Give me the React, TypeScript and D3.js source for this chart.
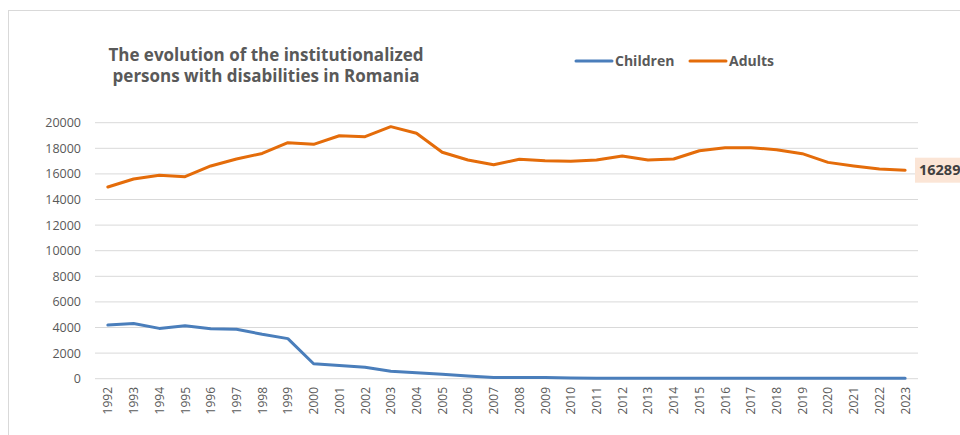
import React from "react";
import * as d3 from "d3";

const years: string[] = d3.range(1992, 2024).map(String);
const children: number[] = [4190, 4320, 3930, 4140, 3910, 3860, 3470, 3130, 1170, 1040, 890, 580, 470, 340, 210, 100, 90, 100, 50, 40, 40, 40, 40, 40, 40, 40, 40, 40, 40, 40, 40, 40];
const adults: number[] = [14980, 15600, 15890, 15780, 16620, 17160, 17600, 18440, 18310, 18980, 18910, 19690, 19170, 17690, 17090, 16720, 17140, 17030, 16980, 17090, 17400, 17090, 17160, 17810, 18050, 18050, 17890, 17580, 16900, 16620, 16380, 16289];
const yTicks: number[] = d3.range(0, 20001, 2000);
const seriesNames: string[] = ["Children", "Adults"];
const seriesColors: string[] = ["#4a7ebb", "#e46c0a"];

export default function App() {
  const W = 960, H = 435;
  const x = d3.scaleBand<string>().domain(years).range([95, 918]);
  const y = d3.scaleLinear().domain([0, 20000]).range([378.7, 122.7]);
  const cx = (d: string) => (x(d) as number) + x.bandwidth() / 2;
  const line = d3.line<number>().x((_, i) => cx(years[i])).y((d) => y(d));
  const font = "'Open Sans', 'Liberation Sans', sans-serif";
  const lastY = y(adults[adults.length - 1]);
  return (
    <svg width={W} height={H} style={{ position: "absolute", left: 0, top: 0, background: "#fff" }} fontFamily={font}>
      <rect x={8.5} y={10.5} width={W + 10} height={H + 10} fill="#fff" stroke="#d9d9d9" strokeWidth={1} />
      <text x={266} y={61} textAnchor="middle" fontSize={17} fontWeight="bold" fill="#595959">The evolution of the institutionalized</text>
      <text x={266} y={82} textAnchor="middle" fontSize={17} fontWeight="bold" fill="#595959">persons with disabilities in Romania</text>
      {seriesNames.map((n, i) => {
        const lx = [576, 690][i];
        return (
          <g key={n}>
            <line x1={lx} x2={lx + 36} y1={61} y2={61} stroke={seriesColors[i]} strokeWidth={3} strokeLinecap="round" />
            <text x={lx + 39} y={66} fontSize={14} fontWeight="bold" fill="#595959">{n}</text>
          </g>
        );
      })}
      {yTicks.map((t) => (
        <g key={t}>
          <line x1={95} x2={918} y1={y(t)} y2={y(t)} stroke="#d9d9d9" strokeWidth={1} />
          <text x={81} y={y(t) + 4.5} textAnchor="end" fontSize={12.5} fill="#595959">{t}</text>
        </g>
      ))}
      {years.map((yr) => (
        <text key={yr} transform={`translate(${cx(yr) + 4.5},387) rotate(-90)`} textAnchor="end" fontSize={12} fill="#595959">{yr}</text>
      ))}
      <path d={line(children) || ""} fill="none" stroke={seriesColors[0]} strokeWidth={3} strokeLinejoin="round" strokeLinecap="round" />
      <path d={line(adults) || ""} fill="none" stroke={seriesColors[1]} strokeWidth={3} strokeLinejoin="round" strokeLinecap="round" />
      <rect x={915} y={lastY - 12.5} width={60} height={25} fill="#fbe5d6" />
      <text x={919} y={lastY + 5} fontSize={14.5} fontWeight="bold" fill="#404040">{adults[adults.length - 1]}</text>
    </svg>
  );
}
